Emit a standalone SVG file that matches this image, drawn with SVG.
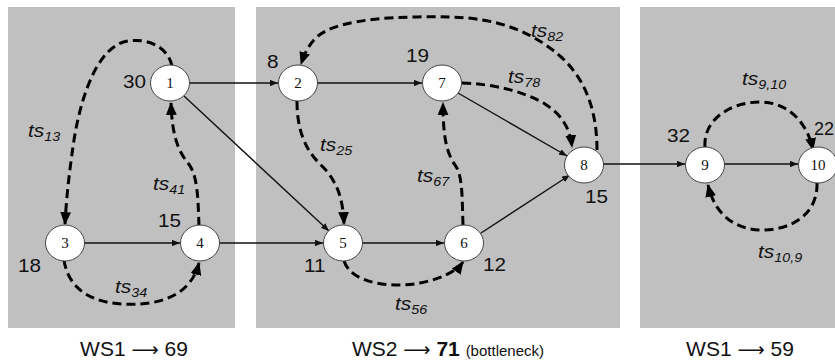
<svg xmlns="http://www.w3.org/2000/svg" width="835" height="363" viewBox="0 0 835 363">
<style>
.panel{fill:#c0c0c0}
.node ellipse{fill:#fff;stroke:#444;stroke-width:1}
.nid{font-family:"Liberation Serif",serif;font-size:15px;text-anchor:middle;fill:#111}
.num{font-family:"Liberation Sans",Arial,sans-serif;font-size:18px;fill:#111}
.ts{font-family:"Liberation Sans",Arial,sans-serif;font-size:19px;font-style:italic;fill:#111}
.sub{font-size:13px}
.solid{fill:none;stroke:#111;stroke-width:1.4;marker-end:url(#as)}
.dash{fill:none;stroke:#000;stroke-width:3;stroke-dasharray:9 5;marker-end:url(#ad)}
.ws{font-family:"Liberation Sans",Arial,sans-serif;font-size:21px;fill:#111;text-anchor:middle}
.arr{font-family:"DejaVu Sans",sans-serif;font-size:19px}
</style>
<defs>
<marker id="as" viewBox="0 0 10 8" refX="10" refY="4" markerWidth="8" markerHeight="6.4" markerUnits="userSpaceOnUse" orient="auto"><path d="M0,0 L10,4 L0,8 Z" fill="#111"/></marker>
<marker id="ad" viewBox="0 0 12 10" refX="11" refY="5" markerWidth="13" markerHeight="11" markerUnits="userSpaceOnUse" orient="auto"><path d="M0,0 L12,5 L0,10 Z" fill="#000"/></marker>
</defs>
<g id="panels">
<rect class="panel" x="8" y="7" width="227" height="321"/>
<rect class="panel" x="256" y="7" width="364" height="321"/>
<rect class="panel" x="640" y="7" width="200" height="321"/>
</g>
<g id="connectors">
<path class="solid" d="M190,83 L278,83"/>
<path class="solid" d="M184,96 L329,231"/>
<path class="solid" d="M84,243 L180,243"/>
<path class="solid" d="M219,243 L323,243"/>
<path class="solid" d="M317,83 L422,83"/>
<path class="solid" d="M362,243 L444,243"/>
<path class="solid" d="M458,93 L567,156"/>
<path class="solid" d="M481,233 L570,175"/>
<path class="solid" d="M603,164 L685,164"/>
<path class="solid" d="M724,164 L798,164"/>
<path class="dash" d="M172,66 C168,48 150,38 128,41 C100,45 82,90 74,140 C68,180 66,205 65,224"/>
<path class="dash" d="M199,226 C198,200 198,175 188,163 C178,151 172,135 171,103"/>
<path class="dash" d="M64,260 C70,300 110,306 140,304 C170,302 192,290 199,263"/>
<path class="dash" d="M297,101 C297,130 305,150 322,166 C338,182 343,200 344,224"/>
<path class="dash" d="M344,261 C352,285 395,288 420,283 C440,279 456,272 463,262"/>
<path class="dash" d="M463,225 C462,200 463,175 455,165 C446,152 443,135 443,103"/>
<path class="dash" d="M462,83 C495,84 525,92 545,104 C562,115 570,128 572,147"/>
<path class="dash" d="M597,150 C597,110 585,78 560,56 C530,30 495,18 450,17 C400,16 340,18 318,36 C310,43 305,52 301,64"/>
<path class="dash" d="M705,147 C703,120 730,102 760,102 C790,102 808,125 813,150"/>
<path class="dash" d="M817,183 C818,215 790,230 763,230 C735,230 715,215 708,185"/>
</g>
<g id="n1" class="node"><ellipse cx="170" cy="83" rx="19.5" ry="18"/><text class="nid" x="170" y="88">1</text></g>
<g id="n2" class="node"><ellipse cx="298" cy="83" rx="19.5" ry="18"/><text class="nid" x="298" y="88">2</text></g>
<g id="n7" class="node"><ellipse cx="442" cy="83" rx="19.5" ry="18"/><text class="nid" x="442" y="88">7</text></g>
<g id="n3" class="node"><ellipse cx="65" cy="243" rx="19.5" ry="18"/><text class="nid" x="65" y="248">3</text></g>
<g id="n4" class="node"><ellipse cx="200" cy="243" rx="19.5" ry="18"/><text class="nid" x="200" y="248">4</text></g>
<g id="n5" class="node"><ellipse cx="343" cy="243" rx="19.5" ry="18"/><text class="nid" x="343" y="248">5</text></g>
<g id="n6" class="node"><ellipse cx="464" cy="243" rx="19.5" ry="18"/><text class="nid" x="464" y="248">6</text></g>
<g id="n8" class="node"><ellipse cx="584" cy="165" rx="19.5" ry="18"/><text class="nid" x="584" y="170">8</text></g>
<g id="n9" class="node"><ellipse cx="705" cy="165" rx="19.5" ry="18"/><text class="nid" x="705" y="170">9</text></g>
<g id="n10" class="node"><ellipse cx="818" cy="165" rx="19.5" ry="18"/><text class="nid" x="818" y="170">10</text></g>
<g id="numbers">
<text class="num" transform="translate(123,88) scale(1.15,1)">30</text>
<text class="num" transform="translate(18,272) scale(1.15,1)">18</text>
<text class="num" transform="translate(158,227) scale(1.15,1)">15</text>
<text class="num" transform="translate(267,68) scale(1.15,1)">8</text>
<text class="num" transform="translate(406,62) scale(1.15,1)">19</text>
<text class="num" transform="translate(304,272) scale(1.15,1)">11</text>
<text class="num" transform="translate(483,271) scale(1.15,1)">12</text>
<text class="num" transform="translate(585,203) scale(1.15,1)">15</text>
<text class="num" transform="translate(667,142) scale(1.15,1)">32</text>
<text class="num" transform="translate(814,135)">22</text>
</g>
<g id="labels">
<text class="ts" transform="translate(28,137) scale(1.1,1)">ts<tspan class="sub" dy="4">13</tspan></text>
<text class="ts" transform="translate(153,190) scale(1.1,1)">ts<tspan class="sub" dy="4">41</tspan></text>
<text class="ts" transform="translate(115,293) scale(1.1,1)">ts<tspan class="sub" dy="4">34</tspan></text>
<text class="ts" transform="translate(320,151) scale(1.1,1)">ts<tspan class="sub" dy="4">25</tspan></text>
<text class="ts" transform="translate(417,182) scale(1.1,1)">ts<tspan class="sub" dy="4">67</tspan></text>
<text class="ts" transform="translate(395,310) scale(1.1,1)">ts<tspan class="sub" dy="4">56</tspan></text>
<text class="ts" transform="translate(531,37) scale(1.1,1)">ts<tspan class="sub" dy="4">82</tspan></text>
<text class="ts" transform="translate(508,83) scale(1.1,1)">ts<tspan class="sub" dy="4">78</tspan></text>
<text class="ts" transform="translate(742,85) scale(1.1,1)">ts<tspan class="sub" dy="4">9,10</tspan></text>
<text class="ts" transform="translate(758,258) scale(1.1,1)">ts<tspan class="sub" dy="4">10,9</tspan></text>
</g>
<g id="footer">
<text class="ws" x="134" y="356">WS1 <tspan class="arr">⟶</tspan> 69</text>
<text class="ws" x="448" y="356">WS2 <tspan class="arr">⟶</tspan> <tspan font-weight="bold">71</tspan> <tspan font-size="15px">(bottleneck)</tspan></text>
<text class="ws" x="740" y="356">WS1 <tspan class="arr">⟶</tspan> 59</text>
</g>
</svg>
